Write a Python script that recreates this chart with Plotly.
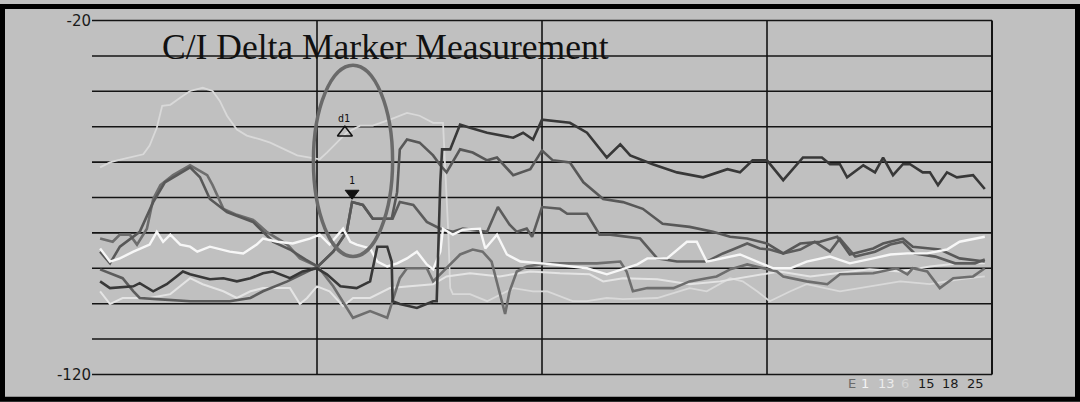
import plotly.graph_objects as go

# ---- frequency axis (0..100 span units) and level readings in dBm ----
freq_a = [0.9, 2.0, 4.6, 5.3, 6.8, 8.3, 9.4, 10.1, 10.9, 12.0, 13.1, 14.6, 16.1, 17.6, 19.0, 20.1, 22.0, 23.4, 25.0, 26.1,
          27.6, 29.4, 30.9, 31.7, 32.8, 33.3, 33.4, 34.2, 36.1, 37.9, 38.3, 38.7, 38.9, 39.8, 40.9, 42.0, 43.9, 46.8, 47.9, 49.0,
          50.0, 53.1, 55.0, 57.2, 58.7, 59.8, 62.3, 65.0, 67.9, 70.6, 72.0, 73.4, 75.0, 76.8, 79.0, 81.1, 82.0, 83.1, 83.9, 85.7,
          87.0, 87.9, 89.0, 90.1, 90.9, 92.3, 93.1, 94.0, 95.0, 96.1, 97.9, 99.2]
level_a = [-93.7, -95.6, -95.1, -94.2, -96.5, -94.5, -92.3, -90.9, -91.7, -92.3, -93.1, -92.8, -93.7, -92.8, -91.4, -90.9, -92.8, -90.9, -90.0, -91.7,
           -95.1, -95.6, -93.7, -83.9, -83.9, -88.1, -99.3, -100.1, -101.2, -99.3, -99.3, -65.7, -56.4, -56.4, -49.4, -50.3, -51.7, -53.1, -51.7, -53.6,
           -48.0, -48.9, -51.7, -58.7, -55.0, -58.1, -60.6, -62.9, -64.3, -62.0, -62.9, -59.5, -59.5, -65.1, -58.7, -58.7, -60.6, -60.6, -64.3, -60.9,
           -62.9, -58.7, -63.7, -60.6, -60.6, -62.9, -62.9, -66.5, -62.9, -64.3, -63.7, -67.6]

freq_b = [0.9, 2.0, 3.1, 5.3, 6.8, 8.1, 10.9, 12.0, 13.1, 15.0, 17.9, 20.1, 22.0, 23.7, 25.1, 26.8, 28.3, 28.9, 30.1, 31.2,
          33.3, 33.9, 34.2, 35.0, 36.4, 37.9, 38.7, 39.4, 40.9, 42.3, 43.9, 45.0, 46.8, 48.7, 50.0, 51.2, 53.1, 54.6, 56.8, 59.0,
          61.2, 63.4, 66.4, 69.0, 70.9, 72.8, 75.0, 76.8, 78.7, 80.9, 82.8, 84.2, 86.8, 87.9, 90.1, 91.2, 94.2, 96.4, 99.2]
level_b = [-85.3, -88.6, -83.9, -79.7, -71.3, -65.7, -61.5, -64.3, -70.4, -74.1, -76.9, -82.5, -84.7, -87.5, -89.5, -85.3, -79.7, -71.3, -72.1, -76.0,
           -76.0, -68.5, -56.4, -53.6, -54.5, -58.1, -60.9, -62.9, -56.4, -57.3, -59.5, -58.7, -63.7, -62.0, -56.7, -59.5, -60.1, -65.7, -70.4, -71.3,
           -73.2, -77.4, -78.3, -79.7, -81.1, -81.6, -83.0, -85.8, -83.0, -82.5, -81.1, -86.1, -84.4, -83.0, -81.6, -83.9, -84.7, -87.2, -88.1]

freq_c = [0.9, 2.3, 3.1, 4.2, 5.0, 6.1, 6.8, 7.6, 9.0, 10.9, 12.8, 13.4, 14.6, 16.1, 17.9, 19.4, 21.7, 23.1, 25.1, 26.8,
          29.0, 30.9, 32.8, 33.4, 34.2, 35.0, 37.2, 37.9, 39.4, 40.9, 42.3, 43.4, 44.4, 45.3, 45.9, 46.4, 47.2, 48.3, 49.8, 51.2,
          53.1, 56.1, 58.7, 59.4, 60.1, 61.7, 64.6, 66.4, 68.3, 69.4, 70.9, 72.8, 74.6, 76.1, 76.8, 79.4, 81.7, 83.1, 86.8, 89.4,
          90.6, 91.2, 92.8, 94.2, 95.7, 97.9, 99.2]
level_c = [-81.6, -82.5, -80.5, -80.5, -83.3, -78.8, -70.4, -66.5, -63.7, -60.9, -63.7, -66.5, -73.2, -74.9, -76.3, -79.7, -83.3, -87.2, -89.5, -95.1,
           -104.0, -102.1, -104.0, -99.3, -92.8, -90.0, -90.0, -93.7, -90.0, -86.1, -84.7, -85.3, -88.1, -96.5, -102.9, -96.5, -90.9, -89.5, -88.9, -88.6,
           -88.6, -88.6, -88.1, -90.9, -96.5, -95.6, -95.6, -93.7, -92.8, -92.3, -90.3, -88.9, -90.0, -90.9, -92.3, -93.7, -94.5, -91.7, -91.4, -90.0,
           -91.7, -90.0, -90.9, -95.6, -92.8, -92.3, -90.0]

freq_d = [0.9, 3.4, 4.6, 5.3, 7.2, 10.9, 15.3, 17.6, 19.0, 21.7, 25.1, 26.8, 28.3, 28.9, 30.1, 31.2, 33.4, 34.2, 35.7, 37.2,
          38.7, 40.1, 41.2, 43.9, 45.1, 46.4, 47.2, 48.3, 48.9, 50.0, 52.0, 52.8, 55.0, 56.4, 57.6, 60.9, 62.8, 65.0, 68.3, 70.1,
          71.2, 72.8, 74.2, 75.3, 76.8, 78.7, 80.3, 82.0, 83.1, 84.8, 87.0, 88.7, 90.1, 91.4, 93.7, 95.9, 98.1, 99.2]
level_d = [-90.3, -92.8, -96.5, -98.4, -98.7, -99.3, -99.3, -98.4, -96.5, -93.7, -89.5, -85.3, -79.7, -71.3, -72.1, -76.0, -76.0, -71.3, -72.1, -76.9,
           -78.8, -79.7, -78.8, -79.7, -72.7, -77.7, -79.7, -78.8, -81.1, -72.7, -73.2, -74.6, -74.6, -80.5, -80.5, -81.6, -87.2, -88.1, -88.1, -85.8,
           -84.7, -83.0, -84.4, -84.7, -85.8, -84.7, -82.5, -85.3, -81.6, -86.7, -85.3, -83.3, -82.5, -85.8, -86.7, -88.6, -88.6, -87.5]

freq_w1 = [0.9, 2.0, 3.1, 4.6, 6.4, 7.2, 7.9, 8.7, 9.8, 10.9, 11.7, 13.1, 15.3, 16.8, 18.3, 19.0, 20.6, 22.3, 24.2, 25.3,
           26.4, 27.9, 28.7, 29.4, 30.9, 31.7, 32.8, 33.9, 35.0, 36.1, 37.2, 37.9, 38.7, 39.0, 40.1, 41.2, 43.1, 43.7, 45.0, 46.1,
           47.6, 51.2, 55.0, 57.2, 60.6, 61.7, 63.9, 66.1, 67.2, 68.3, 72.0, 75.7, 77.6, 79.4, 82.0, 84.2, 86.8, 88.7, 90.6, 92.8,
           95.0, 96.4, 99.2]
level_w1 = [-84.4, -88.1, -87.2, -85.3, -83.3, -79.7, -82.5, -80.5, -83.3, -83.9, -85.3, -83.9, -85.3, -85.8, -83.3, -81.6, -82.5, -83.0, -81.6, -80.5,
            -83.3, -78.8, -82.5, -83.3, -84.4, -88.1, -89.5, -88.6, -87.2, -85.3, -88.9, -90.3, -85.3, -78.8, -80.5, -79.1, -78.8, -84.4, -80.5, -86.1,
            -88.1, -88.9, -90.0, -91.7, -88.9, -87.2, -87.2, -82.5, -82.5, -88.1, -86.1, -90.0, -90.0, -88.1, -86.7, -88.6, -87.2, -86.1, -85.8, -85.8,
            -84.7, -82.5, -81.1]

freq_w2 = [0.9, 2.0, 3.4, 6.4, 8.7, 10.9, 12.3, 14.6, 16.1, 17.6, 19.0, 22.0, 23.1, 23.9, 25.0, 26.4, 27.9, 29.0, 30.9, 33.1,
           35.3, 37.9, 39.4, 42.0, 45.3, 48.7, 52.0, 55.3, 56.8, 59.0, 62.8, 66.4, 69.8, 73.1, 76.4, 79.8, 83.1, 86.4, 89.8, 93.1,
           96.4, 99.2]
level_w2 = [-96.5, -100.1, -98.4, -98.4, -97.3, -92.8, -94.5, -96.5, -98.4, -96.5, -95.6, -95.6, -100.1, -98.4, -95.1, -96.5, -100.7, -98.4, -98.4, -95.6,
            -95.1, -94.5, -92.3, -91.4, -92.3, -90.9, -91.4, -91.7, -93.7, -92.8, -93.1, -94.5, -93.7, -92.3, -90.9, -92.3, -91.4, -90.3, -90.9, -89.5,
            -88.6, -88.6]

freq_l = [0.9, 2.0, 2.8, 5.7, 6.4, 7.2, 7.8, 8.7, 9.8, 10.9, 12.3, 13.4, 14.2, 15.0, 16.1, 17.2, 18.7, 19.8, 22.8, 25.3,
          26.1, 27.2, 28.3, 29.8, 31.2, 33.1, 35.0, 36.4, 37.9, 39.0, 39.3, 39.6, 39.8, 40.1, 42.0, 43.9, 46.8, 49.0, 50.6, 53.4,
          55.0, 57.2, 59.0, 62.8, 66.4, 68.3, 70.9, 72.3, 73.9, 75.3, 77.6, 79.4, 83.1, 86.4, 89.8, 93.1, 96.4, 99.2]
level_l = [-61.5, -60.1, -59.5, -57.8, -55.3, -50.3, -44.1, -43.8, -41.8, -39.9, -39.0, -39.9, -42.7, -46.9, -50.8, -52.5, -53.6, -54.5, -58.1, -59.2,
           -57.3, -54.5, -51.7, -49.7, -49.7, -48.0, -46.1, -46.9, -48.9, -48.9, -62.9, -80.5, -95.6, -97.3, -97.3, -99.3, -95.6, -96.5, -96.5, -99.3,
           -99.3, -98.4, -98.7, -98.4, -95.6, -96.5, -92.8, -93.7, -96.5, -99.3, -96.5, -94.5, -96.5, -95.1, -93.7, -94.5, -93.1, -92.3]

# delta marker (d1) and reference marker (1)
marker_d1 = (28.1, -51.7)
marker_1 = (28.9, -68.8)

# y-axis labels and trace labels along the bottom
y_ticks = [-20, -120]
y_tick_text = ["-20", "-120"]
trace_labels = ["E", "1", "13", "6", "15", "18", "25"]
trace_label_colors = ["#6a6a6a", "#f4f4f4", "#ececec", "#d4d4d4", "#1a1a1a", "#1a1a1a", "#1a1a1a"]
trace_label_x = [84.4, 85.9, 88.3, 90.3, 92.7, 95.4, 98.2]

grid_levels = list(range(-120, -10, 10))
grid_freqs = [25, 50, 75, 100]

BG = "#c0c0c0"
W, H = 1080, 402
ML, MR, MT, MB = 92, 79, 13, 24

fig = go.Figure()

series = [
    (freq_l, level_l, "#d9d9d9", 1.8),
    (freq_w2, level_w2, "#e4e4e4", 2.0),
    (freq_c, level_c, "#6e6e6e", 2.6),
    (freq_d, level_d, "#5c5c5c", 2.6),
    (freq_b, level_b, "#585858", 2.6),
    (freq_w1, level_w1, "#f7f7f7", 2.4),
    (freq_a, level_a, "#383838", 2.6),
]
for fx, fy, col, wd in series:
    fig.add_trace(go.Scatter(x=fx, y=fy, mode="lines", line=dict(color=col, width=wd),
                             hoverinfo="skip", showlegend=False))

fig.add_trace(go.Scatter(x=[marker_d1[0]], y=[marker_d1[1]], mode="markers",
                         marker=dict(symbol="triangle-up-open", size=13, color="#111111", line=dict(width=1.5)),
                         showlegend=False, hoverinfo="skip"))
fig.add_trace(go.Scatter(x=[marker_1[0]], y=[marker_1[1]], mode="markers",
                         marker=dict(symbol="triangle-down", size=12, color="#111111",
                                     line=dict(color="#111111", width=1)),
                         showlegend=False, hoverinfo="skip"))

shapes = []
for lv in grid_levels:
    shapes.append(dict(type="line", xref="x", yref="y", x0=0, x1=100, y0=lv, y1=lv,
                       line=dict(color="#141414", width=1.6), layer="below"))
for fq in grid_freqs:
    shapes.append(dict(type="line", xref="x", yref="y", x0=fq, x1=fq, y0=-120, y1=-20,
                       line=dict(color="#141414", width=2 if fq == 100 else 1.6), layer="below"))

# measurement ellipse around the two markers
shapes.append(dict(type="circle", xref="x", yref="y", x0=24.6, x1=33.4, y0=-86.7, y1=-32.6,
                   line=dict(color="#6a6a6a", width=3.5), layer="above"))

# outer black frame around the whole display (paper units measured from the plot area)
pw = W - ML - MR
ph = H - MT - MB
inset = 2.5
bottom_px = H - MB
shapes.append(dict(type="rect", xref="paper", yref="paper",
                   x0=(inset - ML) / pw, x1=(W - inset - ML) / pw,
                   y0=(bottom_px - (H - inset)) / ph, y1=(bottom_px - inset) / ph,
                   line=dict(color="#000000", width=5), fillcolor="rgba(0,0,0,0)", layer="above"))

annotations = [
    dict(text="C/I Delta Marker Measurement", xref="paper", yref="paper",
         x=(160 - ML) / pw, y=(bottom_px - 43) / ph, xanchor="left", yanchor="middle",
         showarrow=False, font=dict(family="Liberation Serif", size=35.5, color="#111111")),
    dict(text="d1", x=marker_d1[0], y=marker_d1[1], yshift=14, xshift=-1, showarrow=False,
         font=dict(family="DejaVu Sans Mono", size=10, color="#111111")),
    dict(text="1", x=marker_1[0], y=marker_1[1], yshift=13, showarrow=False,
         font=dict(family="DejaVu Sans Mono", size=10, color="#111111")),
]
for lab, col, lx in zip(trace_labels, trace_label_colors, trace_label_x):
    annotations.append(dict(text=lab, x=lx, xref="x", yref="paper", y=(bottom_px - 384) / ph,
                            xanchor="center", yanchor="middle", showarrow=False,
                            font=dict(family="DejaVu Sans", size=13, color=col)))

fig.update_layout(
    width=W, height=H,
    margin=dict(l=ML, r=MR, t=MT, b=MB, pad=0),
    paper_bgcolor=BG, plot_bgcolor=BG,
    showlegend=False,
    shapes=shapes,
    annotations=annotations,
    xaxis=dict(range=[0, 101], showgrid=False, zeroline=False, showticklabels=False,
               ticks="", showline=False, fixedrange=True),
    yaxis=dict(range=[-121, -19], showgrid=False, zeroline=False, tickvals=y_ticks,
               ticktext=y_tick_text, ticks="", showline=False, fixedrange=True,
               tickfont=dict(family="DejaVu Sans", size=15, color="#1a1a1a")),
)

fig.write_html("out.html", config={"displayModeBar": False})
